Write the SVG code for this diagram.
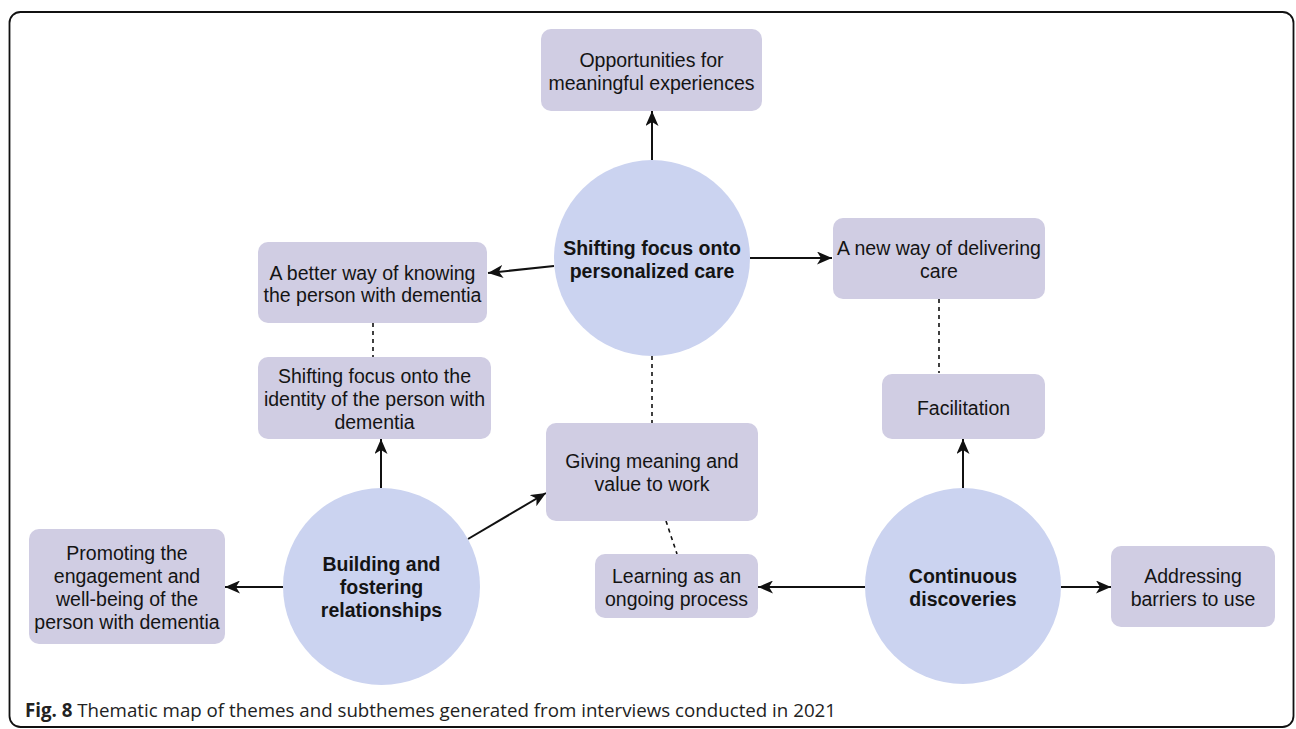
<svg xmlns="http://www.w3.org/2000/svg" width="1296" height="729" viewBox="0 0 1296 729">
  <style>
    .box { fill: #d0cde3; }
    .theme { fill: #cbd3f0; }
    .lbl { font-family: "Liberation Sans", Arial, sans-serif; font-size: 19.5px; fill: #141414; text-anchor: middle; }
    .bold { font-weight: bold; }
    .arrow { stroke: #111; stroke-width: 2; fill: none; marker-end: url(#head); }
    .dash { stroke: #111; stroke-width: 1.6; fill: none; stroke-dasharray: 4 4; }
    .caption { font-family: "Open Sans", "Noto Sans", sans-serif; font-size: 19px; fill: #222; }
  </style>
  <defs>
    <marker id="head" markerUnits="userSpaceOnUse" markerWidth="15" markerHeight="13" refX="15" refY="6.5" orient="auto">
      <path d="M0,0 L15,6.5 L0,13 L4,6.5 z" fill="#111"/>
    </marker>
  </defs>

  <rect x="0" y="0" width="1296" height="729" fill="#fff"/>
  <!-- figure frame -->
  <rect x="9.5" y="12" width="1284" height="715" rx="11" fill="none" stroke="#111" stroke-width="1.8"/>

  <!-- connectors -->
  <g id="connectors">
    <line class="arrow" x1="652" y1="160" x2="652" y2="111"/>
    <line class="arrow" x1="554" y1="266" x2="488" y2="273"/>
    <line class="arrow" x1="750" y1="258" x2="832" y2="258"/>
    <line class="arrow" x1="381" y1="488" x2="381" y2="439"/>
    <line class="arrow" x1="283" y1="587" x2="225" y2="587"/>
    <line class="arrow" x1="468" y1="539" x2="546" y2="493"/>
    <line class="arrow" x1="865" y1="587" x2="758" y2="587"/>
    <line class="arrow" x1="1061" y1="587" x2="1111" y2="587"/>
    <line class="arrow" x1="963" y1="488" x2="963" y2="439"/>
    <line class="dash" x1="373" y1="323" x2="373" y2="357"/>
    <line class="dash" x1="652" y1="356" x2="652" y2="423"/>
    <line class="dash" x1="666" y1="521" x2="677" y2="554"/>
    <line class="dash" x1="939" y1="299" x2="939" y2="373"/>
  </g>

  <!-- themes -->
  <g id="theme-personalized-care">
    <ellipse class="theme" cx="652" cy="258" rx="98" ry="98"/>
    <text class="lbl bold" x="652" y="255">Shifting focus onto</text>
    <text class="lbl bold" x="652" y="278">personalized care</text>
  </g>
  <g id="theme-relationships">
    <ellipse class="theme" cx="381.5" cy="586.5" rx="98.5" ry="98.5"/>
    <text class="lbl bold" x="381.5" y="571">Building and</text>
    <text class="lbl bold" x="381.5" y="594">fostering</text>
    <text class="lbl bold" x="381.5" y="617">relationships</text>
  </g>
  <g id="theme-discoveries">
    <ellipse class="theme" cx="963" cy="586" rx="98" ry="98"/>
    <text class="lbl bold" x="963" y="583">Continuous</text>
    <text class="lbl bold" x="963" y="606">discoveries</text>
  </g>

  <!-- subthemes -->
  <g id="sub-meaningful-experiences">
    <rect class="box" x="541" y="29" width="221" height="82" rx="10"/>
    <text class="lbl" x="651.5" y="67">Opportunities for</text>
    <text class="lbl" x="651.5" y="90">meaningful experiences</text>
  </g>
  <g id="sub-knowing-person">
    <rect class="box" x="258" y="242" width="229" height="81" rx="10"/>
    <text class="lbl" x="372.5" y="280">A better way of knowing</text>
    <text class="lbl" x="372.5" y="302">the person with dementia</text>
  </g>
  <g id="sub-delivering-care">
    <rect class="box" x="833" y="218" width="212" height="81" rx="10"/>
    <text class="lbl" x="939" y="255">A new way of delivering</text>
    <text class="lbl" x="939" y="278">care</text>
  </g>
  <g id="sub-identity">
    <rect class="box" x="258" y="357" width="233" height="82" rx="10"/>
    <text class="lbl" x="374.5" y="383">Shifting focus onto the</text>
    <text class="lbl" x="374.5" y="406">identity of the person with</text>
    <text class="lbl" x="374.5" y="429">dementia</text>
  </g>
  <g id="sub-engagement">
    <rect class="box" x="29" y="529" width="196" height="115" rx="10"/>
    <text class="lbl" x="127" y="560">Promoting the</text>
    <text class="lbl" x="127" y="583">engagement and</text>
    <text class="lbl" x="127" y="606">well-being of the</text>
    <text class="lbl" x="127" y="629">person with dementia</text>
  </g>
  <g id="sub-meaning-work">
    <rect class="box" x="546" y="423" width="212" height="98" rx="10"/>
    <text class="lbl" x="652" y="468">Giving meaning and</text>
    <text class="lbl" x="652" y="491">value to work</text>
  </g>
  <g id="sub-learning">
    <rect class="box" x="595" y="554" width="163" height="64" rx="10"/>
    <text class="lbl" x="676.5" y="583">Learning as an</text>
    <text class="lbl" x="676.5" y="606">ongoing process</text>
  </g>
  <g id="sub-facilitation">
    <rect class="box" x="882" y="374" width="163" height="65" rx="10"/>
    <text class="lbl" x="963.5" y="415">Facilitation</text>
  </g>
  <g id="sub-barriers">
    <rect class="box" x="1111" y="546" width="164" height="81" rx="10"/>
    <text class="lbl" x="1193" y="583">Addressing</text>
    <text class="lbl" x="1193" y="606">barriers to use</text>
  </g>

  <text class="caption" x="25" y="717" textLength="811" lengthAdjust="spacingAndGlyphs"><tspan font-weight="bold">Fig. 8</tspan> Thematic map of themes and subthemes generated from interviews conducted in 2021</text>
</svg>
